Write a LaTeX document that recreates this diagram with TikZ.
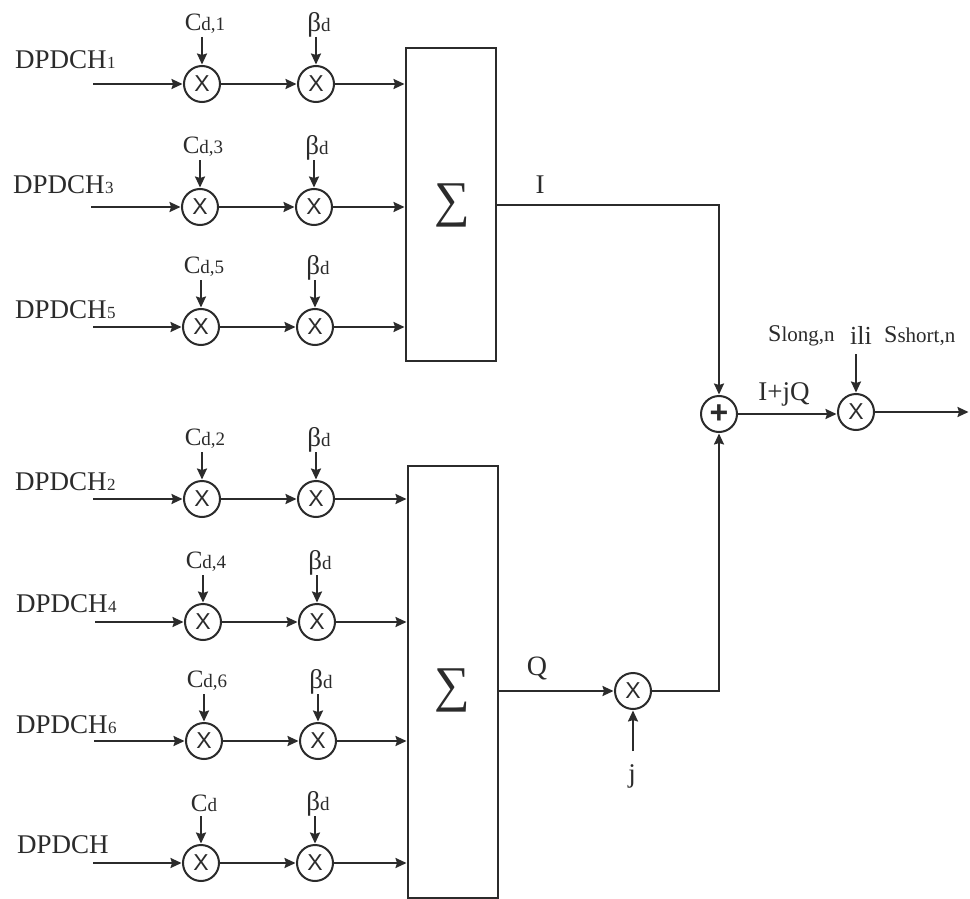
\documentclass[tikz,border=0pt]{standalone}
\usepackage{fontspec}
\setmainfont{Liberation Serif}
\newfontfamily\crossfont{Liberation Sans}
\usetikzlibrary{arrows.meta}
\definecolor{ink}{gray}{0.17}
\newcommand{\smalltxt}[1]{{\fontsize{17}{17}\selectfont\kern0.5pt #1}}
\newcommand{\subtxt}[1]{{\fontsize{19}{19}\selectfont #1}}
\newcommand{\widesub}[1]{{\fontsize{21}{21}\selectfont #1}}
\newcommand{\bigtxt}{\fontsize{27}{27}\selectfont}
\newcommand{\midtxt}{\fontsize{25}{25}\selectfont}
\tikzset{
  wire/.style={draw=ink,line width=2pt},
  arrowwire/.style={wire,-{Stealth[length=11pt,width=10pt,inset=1.5pt]},shorten >=0.5pt},
  mixer/.style={circle,draw=ink,line width=2pt,minimum size=36pt,inner sep=0pt,font=\crossfont\fontsize{23}{23}\selectfont,text=ink,fill=white},
  sumbox/.style={draw=ink,line width=2pt,minimum width=90pt,inner sep=0pt,text=ink},
  sumsign/.style={text=ink,inner sep=0pt,font=\fontsize{50}{50}\selectfont},
  chan/.style={anchor=west,inner sep=0pt,text=ink,font=\bigtxt},
  lab/.style={inner sep=0pt,text=ink,font=\midtxt},
}
% #1 id, #2 y, #3 x start, #4 x first mixer, #5 x second mixer, #6 channel subscript,
% #7 x chan text, #8 y chan text, #9 code label
\newcommand{\chanrow}[9]{%
  \coordinate (s#1) at (#3,#2);
  \node[mixer] (a#1) at (#4,#2) {X};
  \node[mixer] (b#1) at (#5,#2) {X};
  \node[chan] (t#1) at (#7,#8) {DPDCH\smalltxt{#6}};
  \coordinate (ca#1) at (#4,#2-47);
  \coordinate (cb#1) at (#5,#2-47);
  \node[lab] (l#1) at (#4+3,#2-60) {C\subtxt{#9}};
  \node[lab,font=\fontsize{27}{27}\selectfont] (g#1) at (#5+3,#2-59) {β\subtxt{d}};
  \draw[arrowwire] (s#1) -- (a#1);
  \draw[arrowwire] (a#1) -- (b#1);
  \draw[arrowwire] (ca#1) -- (a#1);
  \draw[arrowwire] (cb#1) -- (b#1);
}
\begin{document}
\begin{tikzpicture}[x=1pt,y=-1pt]
\useasboundingbox (0,0) rectangle (970,899);
\fill[white] (0,0) rectangle (970,899);
\node[sumbox,minimum height=313pt] (box1) at (451,204.5) {};
\node[sumbox,minimum height=432pt] (box2) at (453,682) {};
\node[sumsign] (sig1) at (452,205) {∑};
\node[sumsign] (sig2) at (452,690) {∑};
\chanrow{1}{84}{93}{202}{316}{1}{15}{60}{d,1}
\chanrow{3}{207}{91}{200}{314}{3}{13}{185}{d,3}
\chanrow{5}{327}{93}{201}{315}{5}{15}{310}{d,5}
\chanrow{2}{499}{93}{202}{316}{2}{15}{482}{d,2}
\chanrow{4}{622}{95}{203}{317}{4}{16}{604}{d,4}
\chanrow{6}{741}{94}{204}{318}{6}{16}{725}{d,6}
\chanrow{8}{863}{93}{201}{315}{}{17}{845}{d}
\foreach \r in {1,3,5}{\draw[arrowwire] (b\r) -- (b\r -| box1.west);}
\foreach \r in {2,4,6,8}{\draw[arrowwire] (b\r) -- (b\r -| box2.west);}
% right side
\node[mixer,font=\crossfont\bfseries\fontsize{32}{32}\selectfont] (plus) at (719,414) {+};
\node[mixer] (out) at (856,412) {X};
\node[mixer] (qm) at (633,691) {X};
\coordinate (iout) at (496,205);
\coordinate (qout) at (498,691);
\coordinate (end) at (969,412);
\coordinate (jtop) at (633,751);
\coordinate (stop) at (856,354);
\node[lab,font=\fontsize{27}{27}\selectfont] (il) at (540,185) {I};
\node[lab,font=\fontsize{28}{28}\selectfont] (ql) at (537,668) {Q};
\node[lab,font=\fontsize{27}{27}\selectfont] (jl) at (632,776) {j};
\node[lab,font=\fontsize{27}{27}\selectfont] (ijq) at (784,394) {I+jQ};
\node[lab,anchor=west,font=\fontsize{24}{24}\selectfont] (sl) at (768,336) {S\widesub{long,n}};
\node[lab,font=\fontsize{26}{26}\selectfont] (ili) at (861,335) {ili};
\node[lab,anchor=west,font=\fontsize{24}{24}\selectfont] (ss) at (884,336) {S\widesub{short,n}};
\draw[arrowwire] (iout) -| (plus);
\draw[arrowwire] (qout) -- (qm);
\draw[arrowwire] (qm) -| (plus);
\draw[arrowwire] (jtop) -- (qm);
\draw[arrowwire] (plus.east) -- (plus.east -| out.west);
\draw[arrowwire] (stop) -- (out);
\draw[arrowwire] (out) -- (end);
\end{tikzpicture}
\end{document}
